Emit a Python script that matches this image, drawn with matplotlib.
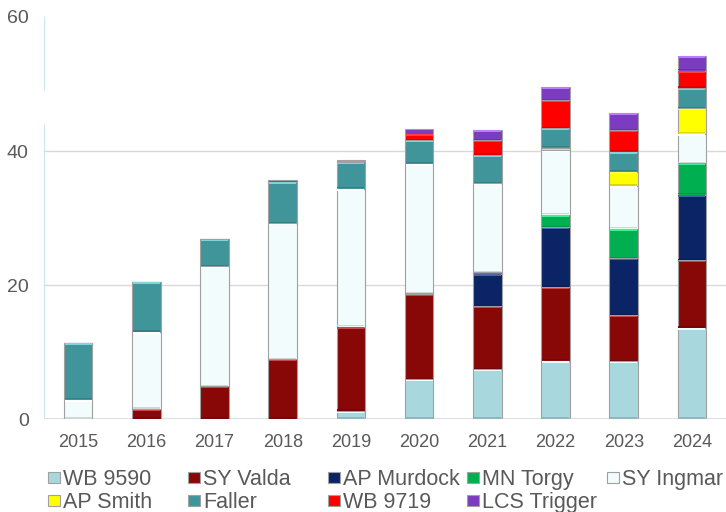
import numpy as np
import matplotlib.pyplot as plt
import matplotlib.colors as mcolors
from matplotlib.patches import Rectangle

years = ["2015", "2016", "2017", "2018", "2019", "2020", "2021", "2022", "2023", "2024"]

wb_9590 = [0, 0, 0, 0, 1.2, 5.9, 7.4, 8.7, 8.6, 13.6]
sy_valda = [0, 1.5, 4.9, 8.9, 12.6, 12.7, 9.4, 11.0, 6.9, 10.1]
ap_murdock = [0, 0, 0, 0, 0, 0.2, 4.9, 8.9, 8.5, 9.8]
mn_torgy = [0, 0, 0, 0, 0, 0, 0.2, 1.9, 4.4, 4.7]
sy_ingmar = [2.9, 11.5, 17.9, 20.3, 20.6, 19.3, 13.3, 9.6, 6.4, 4.4]
ap_smith = [0, 0, 0, 0, 0, 0, 0, 0.4, 2.1, 3.8]
faller = [8.5, 7.5, 4.0, 6.2, 3.9, 3.5, 4.2, 2.9, 3.0, 3.0]
wb_9719 = [0, 0, 0, 0, 0.2, 1.0, 2.2, 4.2, 3.2, 2.6]
lcs_trigger = [0, 0, 0, 0.3, 0.2, 0.7, 1.6, 2.0, 2.6, 2.2]

series = [
    ("WB 9590", wb_9590, "#a8d8dd"),
    ("SY Valda", sy_valda, "#880808"),
    ("AP Murdock", ap_murdock, "#0b2466"),
    ("MN Torgy", mn_torgy, "#00b050"),
    ("SY Ingmar", sy_ingmar, "#f2fcfd"),
    ("AP Smith", ap_smith, "#ffff00"),
    ("Faller", faller, "#40959a"),
    ("WB 9719", wb_9719, "#ff0000"),
    ("LCS Trigger", lcs_trigger, "#7b3cc0"),
]

plt.rcParams["font.family"] = ["Liberation Sans", "DejaVu Sans"]
txt = "#595959"
W, H = 726, 512

fig = plt.figure(figsize=(7.26, 5.12), dpi=100)
ax = fig.add_axes([0.0606, 0.1816, 0.9394, 0.7852])

x = np.arange(len(years))
w = 0.42
bottom = np.zeros(len(years))
for name, vals, col in series:
    vals = np.array(vals, dtype=float)
    ax.bar(x, vals, w, bottom=bottom, color=col, edgecolor="#a0a0a0",
           linewidth=0.8, zorder=3, label=name)
    # light bevel strip at the top of each segment
    light = tuple(min(1, c + 0.25) for c in mcolors.to_rgb(col))
    dark = tuple(c * 0.85 for c in mcolors.to_rgb(col))
    for xi, v, b in zip(x, vals, bottom):
        if v > 0.8:
            ax.bar(xi, 0.22, w * 0.94, bottom=b + v - 0.3, color=light,
                   linewidth=0, zorder=4)
            ax.bar(xi, 0.18, w * 0.94, bottom=b + 0.05, color=dark,
                   linewidth=0, zorder=4)
    bottom += vals

ax.set_xlim(-0.5, 9.5)
ax.set_ylim(0, 60)
ax.set_yticks([0, 20, 40, 60])
ax.set_xticks(x)
ax.set_xticklabels(years)
ax.tick_params(length=0, colors=txt)
ax.tick_params(axis="y", pad=11, labelsize=14)
ax.tick_params(axis="x", pad=11, labelsize=13)
for yv in (20, 40):
    ax.axhline(yv, color="#d9d9d9", lw=1, zorder=1)
for s in ax.spines.values():
    s.set_visible(False)
ax.axhline(0, color="#d9d9d9", lw=1.2, zorder=2)
ax.axvline(-0.5, ymin=0, ymax=0.731, color="#bfe3e6", lw=1.2, zorder=2)
ax.axvline(-0.5, ymin=0.818, ymax=1, color="#bfe3e6", lw=1.2, zorder=2)

# legend laid out by hand, row by row like the original
col_x = [48, 188, 328, 467, 607]
row_y = [477, 500]
for i, (name, vals, col) in enumerate(series):
    r, c = divmod(i, 5)
    mx, my = col_x[c], row_y[r]
    fig.add_artist(Rectangle((mx / W, (H - my - 5.5) / H), 12 / W, 11 / H,
                             transform=fig.transFigure, facecolor=col,
                             edgecolor="#a0a0a0", linewidth=0.8))
    fig.text((mx + 15) / W, (H - my) / H, name, fontsize=15.5, color=txt,
             va="center_baseline", ha="left")

fig.savefig("out.png", dpi=100)
